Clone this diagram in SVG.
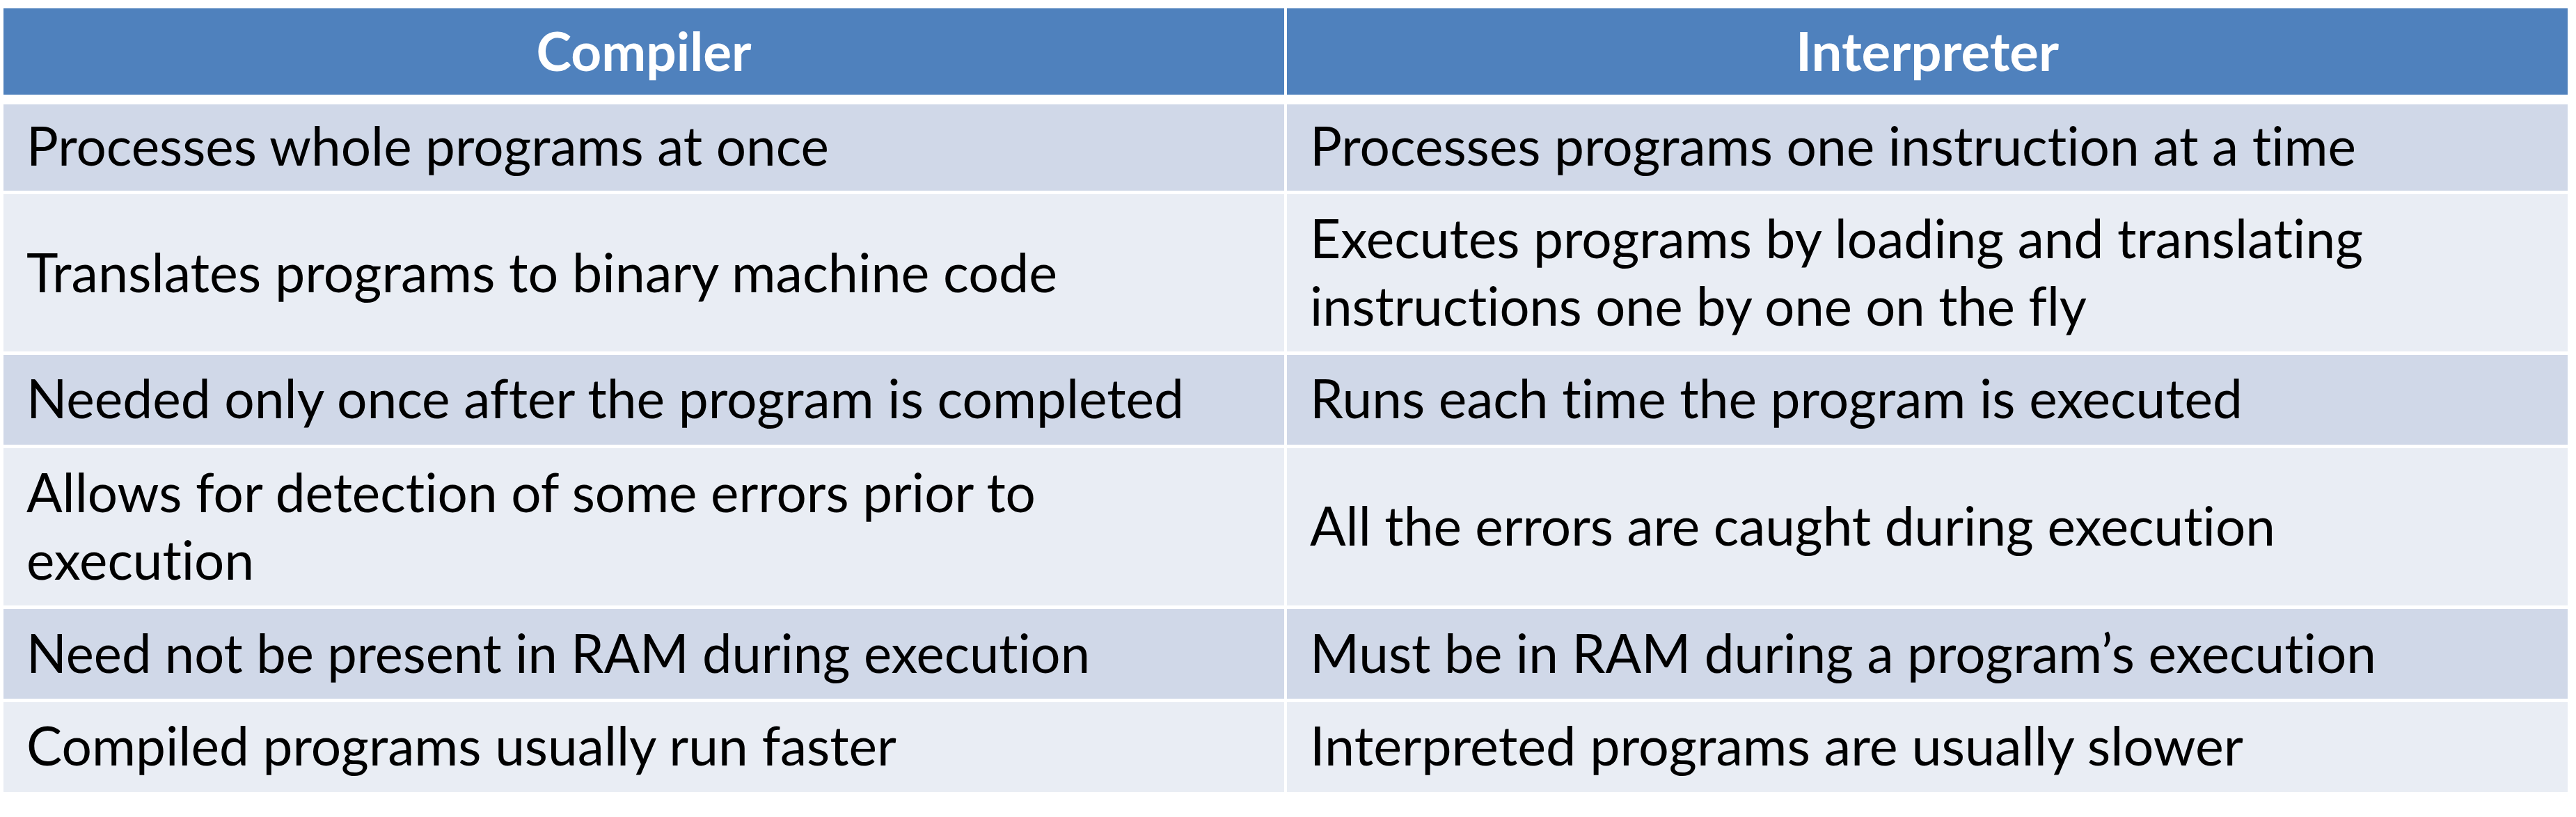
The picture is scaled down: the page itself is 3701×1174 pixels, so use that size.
<svg xmlns="http://www.w3.org/2000/svg" width="3701" height="1174" viewBox="0 0 3701 1174">
<style>
.hd{fill:#4F81BD}
.d{fill:#D0D8E8}
.l{fill:#E9EDF4}
text{font-family:Lato,"Open Sans","Liberation Sans",sans-serif;font-size:77px;fill:#000;font-variant-ligatures:none;font-feature-settings:"liga" 0,"clig" 0}
.h{font-weight:bold;fill:#FFFFFF;text-anchor:middle}
</style>
<rect x="0" y="0" width="3701" height="1174" fill="#FFFFFF"/>
<g id="header-compiler"><rect class="hd" x="5" y="12" width="1840" height="124"/><text class="h" x="925" y="102" textLength="309" lengthAdjust="spacingAndGlyphs">Compiler</text></g>
<g id="header-interpreter"><rect class="hd" x="1849" y="12" width="1840" height="124"/><text class="h" x="2769" y="102" textLength="378" lengthAdjust="spacingAndGlyphs">Interpreter</text></g>

<g id="r1-compiler"><rect class="d" x="5" y="150" width="1840" height="124"/><text x="38" y="238" textLength="1153" lengthAdjust="spacingAndGlyphs">Processes whole programs at once</text></g>
<g id="r1-interpreter"><rect class="d" x="1849" y="150" width="1840" height="124"/><text x="1882" y="238" textLength="1503" lengthAdjust="spacingAndGlyphs">Processes programs one instruction at a time</text></g>

<g id="r2-compiler"><rect class="l" x="5" y="279" width="1840" height="226"/><text x="38" y="420" textLength="1481" lengthAdjust="spacingAndGlyphs">Translates programs to binary machine code</text></g>
<g id="r2-interpreter"><rect class="l" x="1849" y="279" width="1840" height="226"/><text x="1882" y="371" textLength="1513" lengthAdjust="spacingAndGlyphs">Executes programs by loading and translating</text><text x="1882" y="468" textLength="1116" lengthAdjust="spacingAndGlyphs">instructions one by one on the fly</text></g>

<g id="r3-compiler"><rect class="d" x="5" y="510" width="1840" height="129"/><text x="38" y="601" textLength="1663" lengthAdjust="spacingAndGlyphs">Needed only once after the program is completed</text></g>
<g id="r3-interpreter"><rect class="d" x="1849" y="510" width="1840" height="129"/><text x="1882" y="601" textLength="1340" lengthAdjust="spacingAndGlyphs">Runs each time the program is executed</text></g>

<g id="r4-compiler"><rect class="l" x="5" y="644" width="1840" height="226"/><text x="38" y="736" textLength="1450" lengthAdjust="spacingAndGlyphs">Allows for detection of some errors prior to</text><text x="38" y="833" textLength="327" lengthAdjust="spacingAndGlyphs">execution</text></g>
<g id="r4-interpreter"><rect class="l" x="1849" y="644" width="1840" height="226"/><text x="1882" y="784" textLength="1387" lengthAdjust="spacingAndGlyphs">All the errors are caught during execution</text></g>

<g id="r5-compiler"><rect class="d" x="5" y="875" width="1840" height="129"/><text x="38" y="967" textLength="1528" lengthAdjust="spacingAndGlyphs">Need not be present in RAM during execution</text></g>
<g id="r5-interpreter"><rect class="d" x="1849" y="875" width="1840" height="129"/><text x="1882" y="967" textLength="1532" lengthAdjust="spacingAndGlyphs">Must be in RAM during a program’s execution</text></g>

<g id="r6-compiler"><rect class="l" x="5" y="1009" width="1840" height="129"/><text x="38" y="1100" textLength="1250" lengthAdjust="spacingAndGlyphs">Compiled programs usually run faster</text></g>
<g id="r6-interpreter"><rect class="l" x="1849" y="1009" width="1840" height="129"/><text x="1882" y="1100" textLength="1341" lengthAdjust="spacingAndGlyphs">Interpreted programs are usually slower</text></g>
</svg>
